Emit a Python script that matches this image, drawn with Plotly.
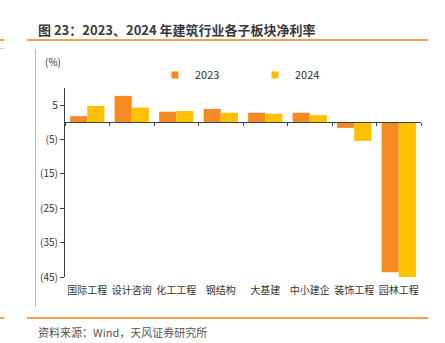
import plotly.graph_objects as go

categories = ["国际工程", "设计咨询", "化工工程", "钢结构", "大基建", "中小建企", "装饰工程", "园林工程"]
v2023 = [1.8, 7.7, 3.1, 3.9, 2.8, 2.8, -1.6, -43.6]
v2024 = [4.8, 4.3, 3.3, 2.8, 2.5, 2.1, -5.4, -45.0]
ytickvals = [5, -5, -15, -25, -35, -45]
yticktext = ["5", "(5)", "(15)", "(25)", "(35)", "(45)"]

C23 = "#F58A22"
C24 = "#FFC000"
FONT = "Noto Sans CJK SC"
W, H = 445, 343
L, R, T, B = 65, 24, 88, 66
ymin, ymax = -45, 10
plot_h = H - T - B
plot_w = W - L - R
zero_pos = (0 - ymin) / (ymax - ymin)


def px_x(x):
    return (x - L) / plot_w


def px_y(y):
    return (H - B - y) / plot_h


fig = go.Figure()
fig.add_trace(go.Bar(x=categories, y=v2023, name="2023", marker=dict(color=C23, line=dict(width=0)),
                     showlegend=False, xaxis="x2"))
fig.add_trace(go.Bar(x=categories, y=v2024, name="2024", marker=dict(color=C24, line=dict(width=0)),
                     showlegend=False, xaxis="x2"))
# invisible trace for zero-line axis
fig.add_trace(go.Scatter(x=categories, y=[0] * len(categories), mode="markers",
                         marker=dict(opacity=0), showlegend=False, hoverinfo="skip", xaxis="x"))
# legend entries
fig.add_trace(go.Scatter(x=[None], y=[None], mode="markers", name="2023",
                         marker=dict(symbol="square", size=7, color=C23)))
fig.add_trace(go.Scatter(x=[None], y=[None], mode="markers", name="2024",
                         marker=dict(symbol="square", size=7, color=C24)))

fig.update_layout(
    width=W, height=H,
    margin=dict(l=L, r=R, t=T, b=B, autoexpand=False),
    paper_bgcolor="white", plot_bgcolor="white",
    font=dict(family=FONT, size=10, color="#333333"),
    barmode="group", bargap=0.23, bargroupgap=0,
    showlegend=True,
    legend=dict(orientation="h", x=px_x(155), y=px_y(75), yanchor="middle", xanchor="left",
                entrywidth=55, entrywidthmode="pixels", itemwidth=30,
                font=dict(size=11, color="#333333", family=FONT), bgcolor="rgba(0,0,0,0)"),
    xaxis=dict(type="category", categoryarray=categories, range=[-0.5, 7.5],
               anchor="free", position=zero_pos, overlaying="x2",
               showline=True, linecolor="#404040", linewidth=1.2,
               ticks="outside", ticklen=3, tickcolor="#404040", tickson="boundaries",
               showticklabels=False, showgrid=False, zeroline=False),
    xaxis2=dict(type="category", categoryarray=categories, range=[-0.5, 7.5],
                anchor="y", side="bottom", showline=False, ticks="", showgrid=False, tickangle=0,
                tickfont=dict(size=10, color="#333333", family=FONT), ticklabelstandoff=6),
    yaxis=dict(range=[ymin, ymax], tickvals=ytickvals, ticktext=yticktext,
               showline=True, linecolor="#404040", linewidth=1.2,
               ticks="outside", ticklen=4, tickcolor="#404040",
               showgrid=False, zeroline=False, tickfont=dict(size=10, color="#333333")),
)

# title and source
fig.add_annotation(text="<b>图 23：2023、2024 年建筑行业各子板块净利率</b>", xref="paper", yref="paper",
                   x=px_x(36), y=px_y(29), xanchor="left", yanchor="middle",
                   showarrow=False, font=dict(size=13, color="#3a3a3a", family=FONT))
fig.add_annotation(text="资料来源：Wind，天风证券研究所", xref="paper", yref="paper",
                   x=px_x(36), y=px_y(331.5), xanchor="left", yanchor="middle",
                   showarrow=False, font=dict(size=11, color="#555555", family=FONT))
fig.add_annotation(text="(%)", xref="paper", yref="paper",
                   x=px_x(43), y=px_y(62), xanchor="left", yanchor="middle",
                   showarrow=False, font=dict(size=10, color="#333333", family=FONT))

shapes = [
    dict(type="line", xref="paper", yref="paper", x0=px_x(27), x1=px_x(428), y0=px_y(40), y1=px_y(40),
         line=dict(color="#F5821F", width=1.5)),
    dict(type="line", xref="paper", yref="paper", x0=px_x(0), x1=px_x(4), y0=px_y(40), y1=px_y(40),
         line=dict(color="#F5821F", width=1.5)),
    dict(type="line", xref="paper", yref="paper", x0=px_x(0), x1=px_x(4), y0=px_y(48.5), y1=px_y(48.5),
         line=dict(color="#cccccc", width=1)),
    dict(type="line", xref="paper", yref="paper", x0=px_x(27), x1=px_x(428), y0=px_y(318), y1=px_y(318),
         line=dict(color="#F5821F", width=1.5)),
    dict(type="line", xref="paper", yref="paper", x0=px_x(0), x1=px_x(4), y0=px_y(318), y1=px_y(318),
         line=dict(color="#F5821F", width=1.5)),
    dict(type="line", xref="paper", yref="paper", x0=px_x(35.5), x1=px_x(35.5), y0=px_y(49), y1=px_y(307),
         line=dict(color="#bbbbbb", width=1), layer="below"),
]
fig.update_layout(shapes=shapes)

fig.write_html("out.html")
